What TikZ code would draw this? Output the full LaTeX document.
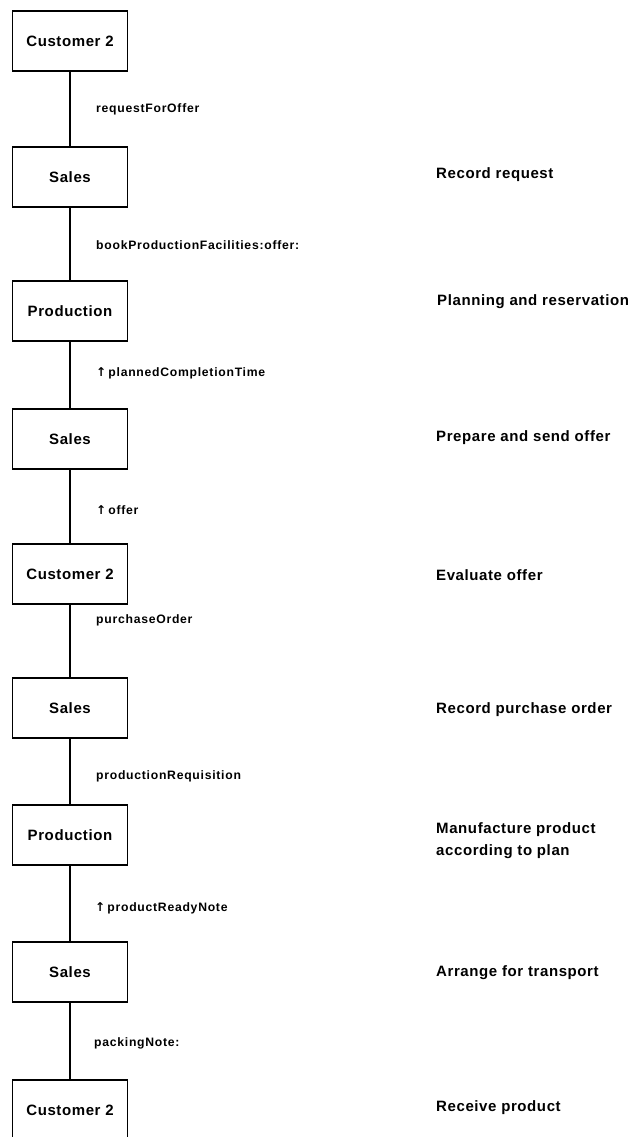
\documentclass[tikz,border=0pt]{standalone}
\usepackage{fontspec}
\setmainfont{Liberation Sans}
\newfontfamily\boxfont[LetterSpace=4]{Liberation Sans}
\newfontfamily\lblfont[LetterSpace=6]{Liberation Sans}
\newfontfamily\arrowfont{DejaVu Sans}
\newcommand{\ret}{{\arrowfont\bfseries ↑}\,}
\begin{document}
\begin{tikzpicture}[x=1pt,y=-1pt,
  objbox/.style={draw, line width=1.8pt, minimum width=115pt, minimum height=60pt, inner sep=0pt, font=\boxfont\bfseries\fontsize{15}{18}\selectfont},
  msg/.style={anchor=west, inner sep=0pt, font=\lblfont\bfseries\fontsize{12.2}{14}\selectfont},
  note/.style={anchor=west, inner sep=0pt, align=left, font=\boxfont\bfseries\fontsize{15}{22}\selectfont},
  link/.style={line width=1.8pt}]
\useasboundingbox (0,0) rectangle (631,1137);
% object boxes
\node[objbox] (b1) at (70,41)  {Customer 2};
\node[objbox] (b2) at (70,177) {Sales};
\node[objbox] (b3) at (70,311) {Production};
\node[objbox] (b4) at (70,439) {Sales};
\node[objbox] (b5) at (70,574) {Customer 2};
\node[objbox] (b6) at (70,708) {Sales};
\node[objbox] (b7) at (70,835) {Production};
\node[objbox] (b8) at (70,972) {Sales};
\node[objbox] (b9) at (70,1110) {Customer 2};
% connectors
\draw[link] (b1) -- (b2);
\draw[link] (b2) -- (b3);
\draw[link] (b3) -- (b4);
\draw[link] (b4) -- (b5);
\draw[link] (b5) -- (b6);
\draw[link] (b6) -- (b7);
\draw[link] (b7) -- (b8);
\draw[link] (b8) -- (b9);
% message labels
\node[msg] (m1) at (96,109) {requestForOffer};
\node[msg] (m2) at (96,245) {bookProductionFacilities:offer:};
\node[msg] (m3) at (96,373) {\ret plannedCompletionTime};
\node[msg] (m4) at (96,510) {\ret offer};
\node[msg] (m5) at (96,620) {purchaseOrder};
\node[msg] (m6) at (96,776) {productionRequisition};
\node[msg] (m7) at (95,908) {\ret productReadyNote};
\node[msg] (m8) at (94,1043) {packingNote:};
% activity notes
\node[note] (n1) at (436,175)  {Record request};
\node[note] (n2) at (437,302)  {Planning and reservation};
\node[note] (n3) at (436,438)  {Prepare and send offer};
\node[note] (n4) at (436,575)  {Evaluate offer};
\node[note] (n5) at (436,710)  {Record purchase order};
\node[note] (n6) at (436,841)  {Manufacture product\\according to plan};
\node[note] (n7) at (436,973)  {Arrange for transport};
\node[note] (n8) at (436,1108) {Receive product};
\end{tikzpicture}
\end{document}
